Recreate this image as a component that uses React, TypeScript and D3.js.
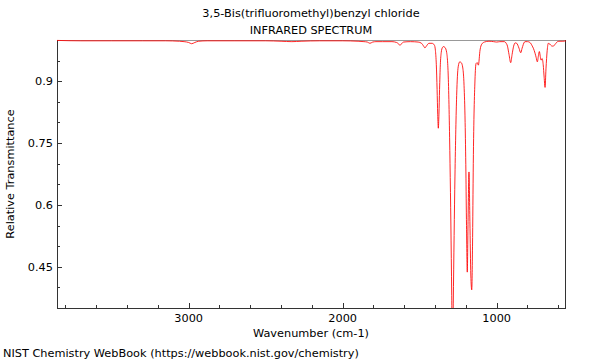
import React from "react";
import * as d3 from "d3";

const TITLE = "3,5-Bis(trifluoromethyl)benzyl chloride";
const SUBTITLE = "INFRARED SPECTRUM";
const X_LABEL = "Wavenumber (cm-1)";
const Y_LABEL = "Relative Transmittance";
const FOOTER = "NIST Chemistry WebBook (https://webbook.nist.gov/chemistry)";

const X_DOMAIN = [3855, 550];
const Y_DOMAIN = [0.35, 1.0];
const X_MAJOR = [3000, 2000, 1000];
const X_MINOR = [3800, 3600, 3400, 3200, 2800, 2600, 2400, 2200, 1800, 1600, 1400, 1200, 800, 600];
const Y_MAJOR = [0.45, 0.6, 0.75, 0.9];
const Y_MINOR = [0.4, 0.5, 0.55, 0.65, 0.7, 0.8, 0.85, 0.95];

// wavenumber (cm-1)
const WAVENUMBERS = [
  3855, 3700, 3500, 3300, 3150, 3060, 3030, 3000, 2981, 2960, 2935, 2880,
  2700, 2500, 2400, 2330, 2270, 2150, 2000, 1900, 1862, 1840, 1823, 1805, 1784,
  1740, 1680, 1650, 1638, 1628, 1618, 1605, 1560, 1510, 1488, 1476, 1466, 1455, 1440,
  1420, 1405, 1398, 1392, 1387, 1383, 1379, 1375, 1371, 1366, 1360, 1352, 1346,
  1336, 1325, 1314, 1303, 1292, 1287, 1282, 1271, 1260, 1250, 1240, 1230, 1220,
  1212, 1205, 1200, 1196, 1191, 1186, 1180, 1174, 1168, 1162, 1157, 1152, 1141,
  1134, 1126, 1119, 1108, 1097, 1080, 1050, 1020, 1000, 980, 950, 940, 930, 920,
  909, 900, 890, 880, 870, 855, 844, 835, 820, 816, 800, 784, 770, 762, 751, 744,
  736, 729, 723, 717, 712, 705, 698, 692, 686, 680, 672, 665, 655, 645, 633, 620,
  605, 589, 570, 550,
];
// relative transmittance
const TRANSMITTANCE = [
  0.999, 0.998, 0.998, 0.998, 0.998, 0.997, 0.996, 0.994, 0.991, 0.994, 0.997, 0.998,
  0.998, 0.998, 0.997, 0.996, 0.997, 0.998, 0.998, 0.997, 0.996, 0.995, 0.992, 0.995, 0.996,
  0.996, 0.996, 0.994, 0.991, 0.987, 0.991, 0.995, 0.996, 0.995, 0.992, 0.986, 0.981, 0.986, 0.992,
  0.992, 0.988, 0.975, 0.94, 0.88, 0.82, 0.786, 0.82, 0.88, 0.94, 0.97, 0.982, 0.984,
  0.982, 0.97, 0.905, 0.7, 0.38, 0.2, 0.36, 0.67, 0.865, 0.935, 0.947, 0.945, 0.932,
  0.89, 0.8, 0.68, 0.55, 0.437, 0.56, 0.68, 0.56, 0.43, 0.394, 0.5, 0.7, 0.903,
  0.943, 0.945, 0.939, 0.976, 0.99, 0.995, 0.997, 0.996, 0.995, 0.996, 0.996, 0.993, 0.985, 0.965,
  0.945, 0.965, 0.985, 0.993, 0.992, 0.98, 0.969, 0.98, 0.995, 0.996, 0.996, 0.994, 0.986, 0.98, 0.968, 0.958,
  0.947, 0.962, 0.972, 0.96, 0.951, 0.955, 0.94, 0.91, 0.885, 0.93, 0.975, 0.992, 0.99, 0.986, 0.985, 0.99,
  0.996, 0.997, 0.997, 0.998,
];

const W = 600;
const H = 360;
const L = 57, R = 566, T = 40, B = 308;
const FONT = "DejaVu Sans, sans-serif";
const FS = 11.3;

export default function App() {
  const x = d3.scaleLinear().domain(X_DOMAIN).range([L, R]);
  const y = d3.scaleLinear().domain(Y_DOMAIN).range([B, T]);
  const data = WAVENUMBERS.map((w, i) => [w, TRANSMITTANCE[i]] as [number, number]);
  const line = d3
    .line<[number, number]>()
    .x((d) => x(d[0]))
    .y((d) => y(d[1]))
    .curve(d3.curveMonotoneX);

  return (
    <div style={{ position: "fixed", left: 0, top: 0 }}>
      <svg width={W} height={H} style={{ display: "block", background: "#fff" }} fontFamily={FONT}>
        <defs>
          <clipPath id="plotclip">
            <rect x={L} y={T - 1} width={R - L} height={B - T + 1} />
          </clipPath>
        </defs>
        <text x={311} y={17} fontSize={FS} textAnchor="middle" fill="#000">{TITLE}</text>
        <text x={311} y={34} fontSize={FS} textAnchor="middle" fill="#000">{SUBTITLE}</text>

        {/* frame */}
        <line x1={L} x2={R} y1={T + 0.5} y2={T + 0.5} stroke="#999" strokeWidth={1} />
        <line x1={L + 0.5} x2={L + 0.5} y1={T} y2={B} stroke="#333" strokeWidth={1} />
        <line x1={R - 0.5} x2={R - 0.5} y1={T} y2={B} stroke="#333" strokeWidth={1} />
        <line x1={L} x2={R} y1={B + 0.5} y2={B + 0.5} stroke="#333" strokeWidth={1} />

        {/* x ticks */}
        {X_MAJOR.map((v) => (
          <g key={"xM" + v}>
            <line x1={Math.round(x(v)) + 0.5} x2={Math.round(x(v)) + 0.5} y1={B} y2={B - 5} stroke="#333" />
            <text x={x(v)} y={322} fontSize={FS} textAnchor="middle" fill="#000">{v}</text>
          </g>
        ))}
        {X_MINOR.map((v) => (
          <line key={"xm" + v} x1={Math.round(x(v)) + 0.5} x2={Math.round(x(v)) + 0.5} y1={B} y2={B - 3} stroke="#333" />
        ))}
        {/* y ticks */}
        {Y_MAJOR.map((v) => (
          <g key={"yM" + v}>
            <line x1={L} x2={L + 5} y1={Math.round(y(v)) + 0.5} y2={Math.round(y(v)) + 0.5} stroke="#333" />
            <text x={53} y={y(v) + 4} fontSize={FS} textAnchor="end" fill="#000">{String(v)}</text>
          </g>
        ))}
        {Y_MINOR.map((v) => (
          <line key={"ym" + v} x1={L} x2={L + 3} y1={Math.round(y(v)) + 0.5} y2={Math.round(y(v)) + 0.5} stroke="#333" />
        ))}

        <path d={line(data) || ""} fill="none" stroke="#ff0000" strokeOpacity={0.85} strokeWidth={1} clipPath="url(#plotclip)" />

        <text x={311} y={337} fontSize={FS} textAnchor="middle" fill="#000">{X_LABEL}</text>
        <text transform="translate(14,174) rotate(-90)" fontSize={FS} textAnchor="middle" fill="#000">{Y_LABEL}</text>
        <text x={3} y={357} fontSize={FS} fill="#000">{FOOTER}</text>
      </svg>
    </div>
  );
}
